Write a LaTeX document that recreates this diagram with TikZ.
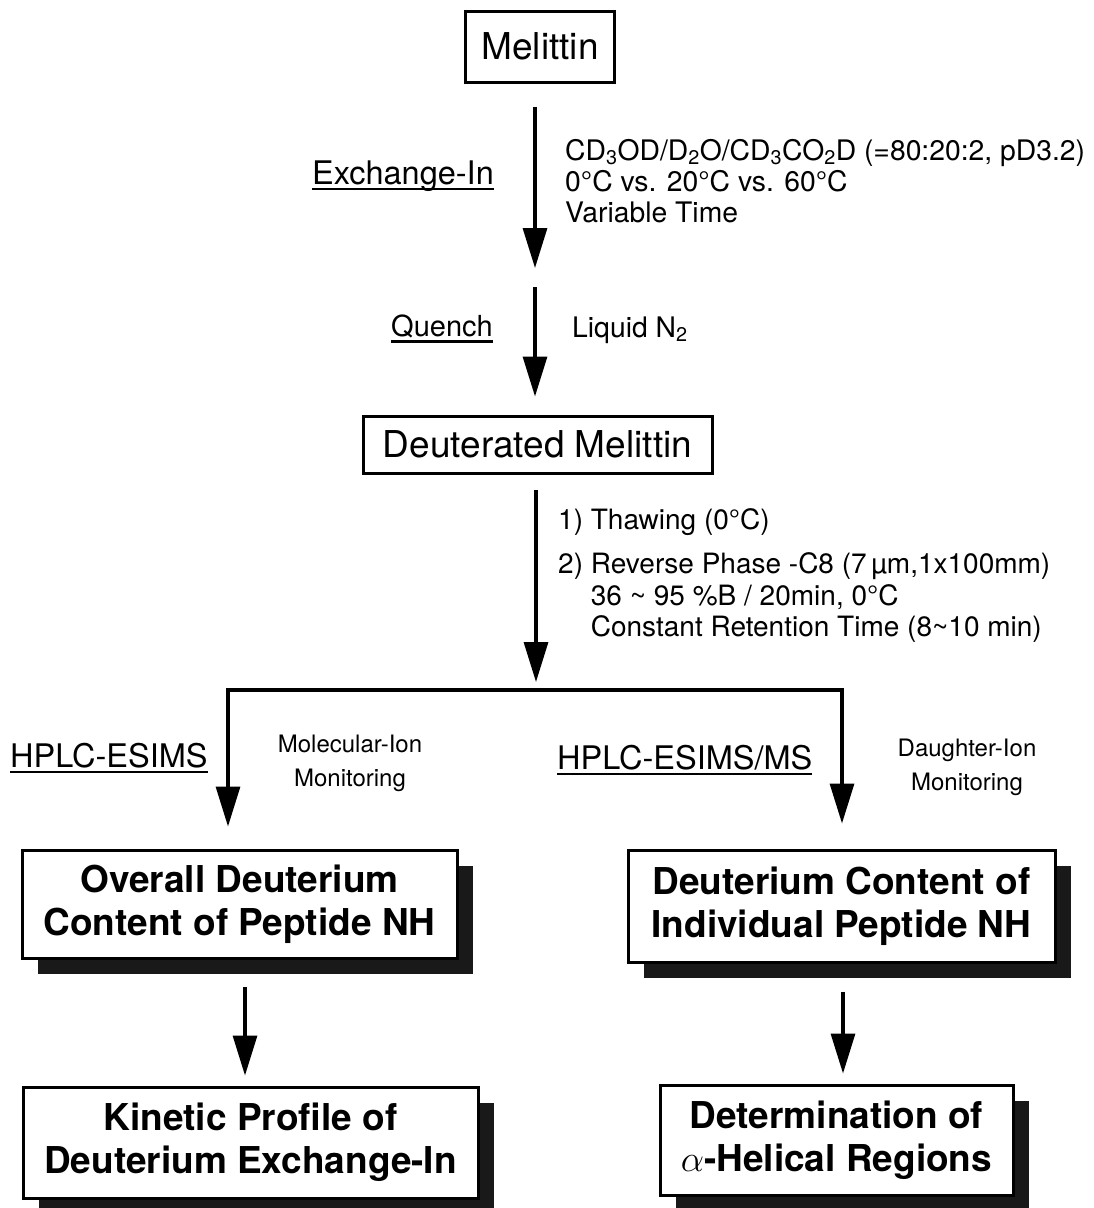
\RequirePackage{fix-cm}
\documentclass[tikz,border=0pt]{standalone}
\usepackage{fontspec}
\setmainfont{TeX Gyre Heros}
\usetikzlibrary{arrows.meta,shadows}
\newcommand\ulin[1]{\setbox0\hbox{#1}\rlap{\rule[-6pt]{\wd0}{2.4pt}}\box0}
\tikzset{
  arr/.style={line width=3.2pt, -{Triangle[length=40pt,width=24pt]}},
  plainbox/.style={draw, line width=3pt, fill=white, inner sep=0pt, align=center},
  shbox/.style={plainbox, drop shadow={shadow xshift=16pt, shadow yshift=-16pt, fill=black!90, opacity=1}},
  lab/.style={font=\fontsize{32.5}{37}\selectfont, inner sep=0pt},
  note/.style={font=\fontsize{28.3}{31}\selectfont, inner sep=0pt, align=left},
  mon/.style={font=\fontsize{24}{34}\selectfont, inner sep=0pt, align=center},
  big/.style={font=\fontsize{37}{43}\bfseries\selectfont},
  title/.style={font=\fontsize{37}{42}\selectfont}
}
\begin{document}
\begin{tikzpicture}[x=1pt,y=-1pt]
\useasboundingbox (0,0) rectangle (1093,1208);
\fill[white] (0,0) rectangle (1093,1208);

% main boxes
\node[plainbox, title, minimum width=149pt, minimum height=71pt] (mel) at (540,46.5) {Melittin};
\node[plainbox, title, minimum width=349pt, minimum height=57pt] (deut) at (537.5,444.5) {Deuterated Melittin};

\node[shbox, big, minimum width=435pt, minimum height=108pt] (o1) at (239.5,904) {Overall Deuterium\\Content of Peptide NH};
\node[shbox, big, minimum width=427pt, minimum height=112pt] (d1) at (841.5,906) {Deuterium Content of\\Individual Peptide NH};
\node[shbox, big, minimum width=455pt, minimum height=111pt] (k1) at (250.5,1142.5) {Kinetic Profile of\\Deuterium Exchange-In};
\node[shbox, big, minimum width=353pt, minimum height=110pt] (h1) at (836.5,1140) {Determination of\\{\mdseries$\alpha$}-Helical Regions};

% coordinates
\coordinate (m1) at (535,277);
\coordinate (br) at (536,690);
\coordinate (bl) at (228,690);
\coordinate (brr) at (842,690);
\coordinate (l4) at (245,985);
\coordinate (r4) at (843,990);

% connectors
\draw[arr, shorten <=23pt, shorten >=9pt] (mel.south -| m1) -- (m1);
\draw[arr, shorten <=10pt, shorten >=18pt] (m1) -- (m1 |- deut.north);
\draw[arr, shorten <=15pt, shorten >=8pt] (deut.south -| br) -- (br);
\draw[arr, shorten >=22pt] (br) -- (bl) -- (bl |- o1.north);
\draw[arr, shorten >=25pt] (br) -- (brr) -- (brr |- d1.north);
\draw[arr, shorten <=27pt, shorten >=10pt] (o1.south -| l4) -- (k1.north -| l4);
\draw[arr, shorten <=28pt, shorten >=10pt] (d1.south -| r4) -- (h1.north -| r4);

% labels
\node[lab, anchor=east] (exl) at (494,176) {\ulin{Exchange-In}};
\node[note, anchor=west] (exn) at (565,181) {CD\textsubscript{3}OD/D\textsubscript{2}O/CD\textsubscript{3}CO\textsubscript{2}D (=80:20:2, pD3.2)\\0°C vs. 20°C vs. 60°C\\Variable Time};
\node[lab, anchor=east, font=\fontsize{29}{34}\selectfont] (ql) at (493,329) {\ulin{Quench}};
\node[note, anchor=west] (qn) at (572,330) {Liquid N\textsubscript{2}};
\node[note, anchor=west, font=\fontsize{28}{31}\selectfont] (t1) at (558,522) {1) Thawing (0°C)};
\node[note, anchor=west, font=\fontsize{28}{31.5}\selectfont] (t2) at (558,598) {2) Reverse Phase -C8 (7\,µm,1x100mm)\\\hphantom{2) }36 \textasciitilde{} 95 \%B / 20min, 0°C\\\hphantom{2) }Constant Retention Time (8\textasciitilde10 min)};
\node[lab, anchor=west] (hl) at (10,758) {\ulin{HPLC-ESIMS}};
\node[mon] (mi) at (350,763) {Molecular-Ion\\Monitoring};
\node[lab, anchor=west] (hr) at (557,760) {\ulin{HPLC-ESIMS/MS}};
\node[mon] (di) at (967,767) {Daughter-Ion\\Monitoring};
\end{tikzpicture}
\end{document}
